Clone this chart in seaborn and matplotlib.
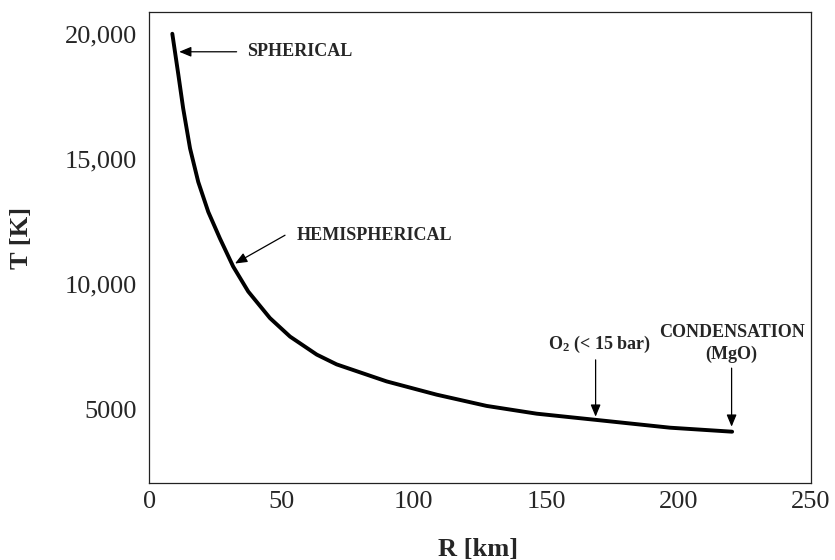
import matplotlib
matplotlib.use('Agg')
import matplotlib.pyplot as plt
import seaborn as sns
import pandas as pd
from matplotlib.ticker import MultipleLocator

# values
radius_km = [8.7, 11.0, 12.8, 15.4, 18.5, 22.3, 26.7, 31.7, 37.4, 45.6, 53.2,
             63.3, 70.8, 89.7, 101.1, 108.6, 127.5, 146.4, 159.0, 169.0, 196.8, 220.3]
temp_k = [20000, 18350, 17020, 15420, 14080, 12880, 11820, 10700, 9700, 8640, 7900,
          7180, 6790, 6110, 5790, 5580, 5130, 4820, 4680, 4570, 4260, 4100]

x_ticks = [0, 50, 100, 150, 200, 250]
y_ticks = [5000, 10000, 15000, 20000]
y_tick_labels = ['5000', '10,000', '15,000', '20,000']

# annotation labels: text, point on curve, arrow tail, text position
notes = [
    ('SPHERICAL', (11.3, 19280), (33.0, 19280), (36.8, 19280), 'left', 'center'),
    ('HEMISPHERICAL', (32.4, 10820), (51.3, 11950), (55.7, 11950), 'left', 'center'),
    ('O$_2$ (< 15 bar)', (168.7, 4700), (168.7, 6970), (170.2, 7150), 'center', 'bottom'),
    ('CONDENSATION\n(MgO)', (220.1, 4300), (220.1, 6640), (220.1, 6850), 'center', 'bottom'),
]

sns.set_theme(style='white')
plt.rcParams['font.family'] = ['Liberation Serif', 'DejaVu Serif']
plt.rcParams['mathtext.fontset'] = 'custom'
plt.rcParams['mathtext.rm'] = 'Liberation Serif:bold'
plt.rcParams['mathtext.it'] = 'Liberation Serif:bold'

df = pd.DataFrame({'R': radius_km, 'T': temp_k})

fig, ax = plt.subplots(figsize=(8.35, 5.6), dpi=100)
fig.subplots_adjust(left=0.1788, right=0.9709, top=0.9786, bottom=0.1375)

sns.lineplot(data=df, x='R', y='T', ax=ax, color='black', linewidth=2.8, sort=False)

ax.set_xlim(0, 250)
ax.set_ylim(2050, 20870)
ax.set_xticks(x_ticks)
ax.set_yticks(y_ticks)
ax.set_yticklabels(y_tick_labels)
ax.xaxis.set_minor_locator(MultipleLocator(25))
ax.yaxis.set_minor_locator(MultipleLocator(2500))
ax.tick_params(which='both', direction='in', color='black', width=0.9)
ax.tick_params(which='major', length=6)
ax.tick_params(which='minor', length=4)
ax.tick_params(axis='y', labelsize=19, pad=9)
ax.tick_params(axis='x', labelsize=19, pad=6)
for side in ax.spines.values():
    side.set_color('#222222')
    side.set_linewidth(0.9)

ax.set_xlabel('R [km]', fontsize=19, fontweight='bold')
ax.set_ylabel('T [K]', fontsize=19, fontweight='bold')
ax.xaxis.set_label_coords(0.497, -0.116)
ax.yaxis.set_label_coords(-0.176, 0.52)

for text, tip, tail, pos, ha, va in notes:
    ax.annotate('', xy=tip, xytext=tail,
                arrowprops=dict(arrowstyle='-|>,head_length=0.6,head_width=0.25',
                                color='black', lw=0.9, shrinkA=0, shrinkB=0))
    ax.text(pos[0], pos[1], text, ha=ha, va=va, fontsize=13, fontweight='bold',
            linespacing=1.35)

fig.savefig('out.png', dpi=100)
